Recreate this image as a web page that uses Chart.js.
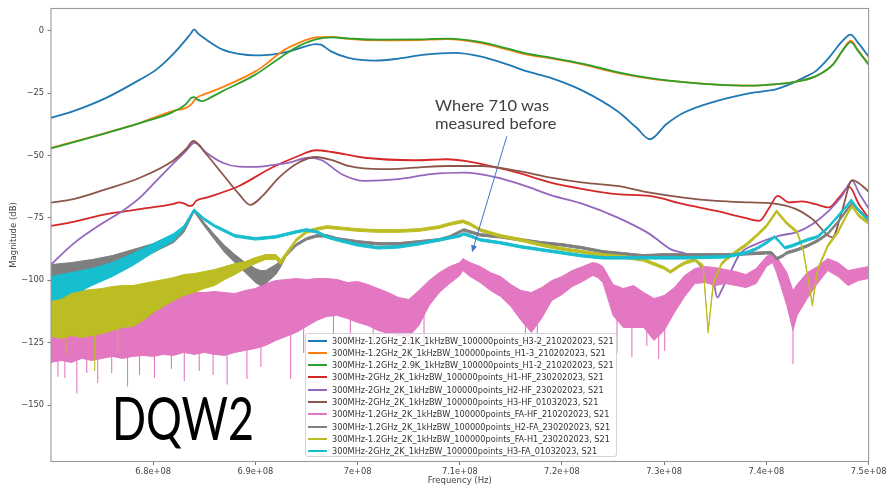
<!DOCTYPE html>
<html>
<head>
<meta charset="utf-8">
<title>DQW2 S21</title>
<script src="https://cdn.jsdelivr.net/npm/chart.js@4.4.1/dist/chart.umd.min.js"></script>
<style>
html, body { margin: 0; padding: 0; background: #fff; }
#wrap { position: relative; width: 888px; height: 487px; overflow: hidden; }
#c { position: absolute; left: 0; top: 0; }
.legend { position: absolute; left: 305px; top: 333px; width: 312px; height: 124px; box-sizing: border-box;
  border: 1px solid #d4d4d4; border-radius: 3px; background: rgba(255,255,255,0.8);
  font-family: 'DejaVu Sans'; font-size: 8.2px; color: #333; }
.legend .row { position: absolute; left: 0; height: 12px; width: 100%; }
.legend .row i { position: absolute; left: 2px; top: 5px; width: 19px; height: 2px; }
.legend .row span { position: absolute; left: 25.7px; top: 0; line-height: 12px; white-space: nowrap; display: inline-block; transform-origin: 0 50%; }
.note { position: absolute; left: 435px; top: 95.6px; font-family: Lato; font-size: 16px; line-height: 18.5px; color: #404040; white-space: nowrap; }
.note div { display: inline-block; transform-origin: 0 50%; }
.tag { position: absolute; left: 112px; top: 386.8px; font-family: Lato; font-size: 60px; line-height: 60px; color: #000; white-space: nowrap; display: inline-block; transform-origin: 0 0; }
</style>
</head>
<body>
<div id="wrap">
  <canvas id="c" width="888" height="487"></canvas>
  <div class="note" id="note"><div id="n1">Where 710 was</div><br><div id="n2">measured before</div></div>
  <div class="tag" id="tag">DQW2</div>
  <div class="legend" id="legend"></div>
</div>
<script>
// ---- axis ticks (frequency in MHz on the scale, labelled in Hz) ----
const FREQ_TICKS = [680, 690, 700, 710, 720, 730, 740, 750];
const FREQ_TICK_LABELS = ['6.8e+08', '6.9e+08', '7e+08', '7.1e+08', '7.2e+08', '7.3e+08', '7.4e+08', '7.5e+08'];
const DB_TICKS = [-150, -125, -100, -75, -50, -25, 0];
const DB_TICK_LABELS = ['\u2212150', '\u2212125', '\u2212100', '\u221275', '\u221250', '\u221225', '0'];

const SERIES_NAMES = [
  '300MHz-1.2GHz_2.1K_1kHzBW_100000points_H3-2_210202023, S21',
  '300MHz-1.2GHz_2K_1kHzBW_100000points_H1-3_210202023, S21',
  '300MHz-1.2GHz_2.9K_1kHzBW_100000points_H1-2_210202023, S21',
  '300MHz-2GHz_2K_1kHzBW_100000points_H1-HF_230202023, S21',
  '300MHz-2GHz_2K_1kHzBW_100000points_H2-HF_230202023, S21',
  '300MHz-2GHz_2K_1kHzBW_100000points_H3-HF_01032023, S21',
  '300MHz-1.2GHz_2K_1kHzBW_100000points_FA-HF_210202023, S21',
  '300MHz-1.2GHz_2K_1kHzBW_100000points_H2-FA_230202023, S21',
  '300MHz-1.2GHz_2K_1kHzBW_100000points_FA-H1_230202023, S21',
  '300MHz-2GHz_2K_1kHzBW_100000points_H3-FA_01032023, S21'
];
const SERIES_COLORS = ['#1f77b4', '#ff7f0e', '#2ca02c', '#d62728', '#9467bd', '#8c564b', '#e377c2', '#7f7f7f', '#bcbd22', '#17becf'];

// ---- smooth traces: frequency (MHz) and |S21| (dB) ----
const h32Freq = [670, 672.2, 675.4, 678.7, 680.3, 681.9, 683.2, 683.7, 684.0, 684.4, 685.2, 686.8, 688.4, 690.0, 691.6, 693.3, 694.9, 695.9, 696.4, 697.4, 699.1, 701.7, 704.0, 706.6, 709.5, 712.0, 714.7, 716.6, 718.9, 722.1, 725.4, 727.3, 728.6, 730.2, 731.9, 735.1, 738.4, 741.0, 742.2, 743.9, 744.8, 746.1, 747.4, 748.25, 749.0, 750];
const h32Db = [-34.9, -32.2, -26.9, -19.6, -15.6, -9.6, -3.6, -1.0, 0.5, -1.2, -3.6, -7.6, -9.3, -9.9, -9.6, -8.3, -6.3, -5.4, -5.6, -8.3, -10.9, -12.0, -11.2, -9.6, -8.9, -10.3, -13.6, -16.3, -18.9, -24.2, -32.2, -38.9, -43.5, -37.5, -32.9, -28.2, -25.0, -23.4, -21.6, -18.3, -16.3, -10.9, -4.3, -1.6, -5.0, -10.3];

const h13Freq = [670, 675.4, 678.7, 681.9, 683.2, 683.7, 684.2, 684.8, 686.8, 690.0, 691.0, 692.6, 694.2, 695.9, 697.5, 699.1, 702.3, 705.6, 708.8, 712.1, 714.7, 716.6, 718.9, 722.1, 725.4, 728.6, 731.9, 735.1, 738.4, 741.0, 742.2, 744.8, 746.5, 747.4, 748.25, 749.0, 750];
const h13Db = [-47.0, -40.9, -36.9, -32.2, -30.9, -29.6, -27.0, -25.8, -22.6, -16.3, -13.5, -8.3, -5.0, -2.7, -2.5, -3.3, -3.9, -3.8, -3.4, -5.0, -7.6, -9.6, -11.1, -13.6, -16.9, -19.2, -20.6, -21.6, -22.0, -21.4, -20.9, -18.3, -13.6, -8.3, -4.0, -8.0, -13.3];

const h12Freq = [670, 675.4, 678.7, 681.9, 683.2, 683.7, 684.0, 684.3, 684.8, 685.5, 686.8, 690.0, 692.6, 694.2, 695.9, 697.5, 699.1, 702.3, 705.6, 708.8, 712.1, 714.7, 716.6, 718.9, 722.1, 725.4, 728.6, 731.9, 735.1, 738.4, 741.0, 742.2, 744.8, 746.5, 747.4, 748.25, 749.0, 750];
const h12Db = [-47.2, -41.0, -37.0, -32.6, -29.4, -27.0, -26.6, -27.5, -28.2, -27.0, -24.2, -17.6, -10.3, -6.3, -3.5, -2.7, -3.1, -3.6, -3.5, -3.2, -4.6, -7.2, -9.2, -10.8, -13.3, -16.6, -19.0, -20.6, -21.6, -22.0, -21.4, -20.9, -18.3, -13.6, -8.3, -4.6, -8.3, -13.6];

const h1hfFreq = [670, 672.2, 675.4, 678.7, 681.9, 682.55, 683.1, 683.5, 683.9, 684.2, 685.2, 688.4, 691.6, 694.2, 695.9, 697.5, 700.7, 705.6, 708.8, 710.5, 713.7, 715.65, 718.9, 722.1, 725.4, 728.6, 731.9, 735.1, 737.7, 739.3, 740.3, 741.1, 742.2, 743.5, 744.8, 746.1, 747.1, 748.1, 749.05, 750];
const h1hfDb = [-78.2, -76.6, -73.5, -71.5, -69.5, -68.8, -69.4, -70.2, -69.8, -68.2, -66.9, -62.2, -54.9, -50.2, -47.9, -48.6, -50.9, -51.9, -51.5, -52.2, -54.9, -56.9, -60.9, -63.5, -65.5, -66.2, -69.5, -72.2, -74.8, -76.2, -70.8, -66.2, -68.8, -68.4, -69.5, -70.8, -66.9, -62.6, -69.5, -75.0];

const h2hfFreq = [670, 672.2, 675.4, 677.0, 678.7, 680.3, 681.9, 683.2, 684.04, 685.2, 686.8, 688.4, 690.0, 691.6, 693.3, 695.2, 696.5, 698.45, 700.7, 704.0, 707.2, 710.5, 713.7, 716.6, 718.9, 722.1, 725.4, 728.6, 730.6, 732.5, 733.8, 734.8, 735.2, 735.6, 736.4, 737.4, 739.0, 741.3, 742.9, 744.5, 746.1, 747.4, 748.4, 749.05, 750];
const h2hfDb = [-93.7, -85.3, -76.2, -72.2, -66.9, -60.2, -53.5, -48.2, -44.9, -48.9, -52.9, -54.5, -54.6, -53.9, -52.9, -50.9, -51.9, -57.5, -60.2, -59.5, -57.5, -56.9, -58.9, -62.5, -65.9, -69.5, -74.8, -81.5, -87.5, -90.1, -95.3, -100.1, -106.9, -104.1, -97.4, -89.5, -85.5, -82.1, -80.8, -77.5, -72.2, -66.2, -60.2, -64.9, -71.2];

const h3hfFreq = [670, 672.2, 675.4, 678.7, 681.9, 683.2, 683.94, 685.2, 686.8, 688.4, 689.5, 690.7, 692.3, 694.2, 695.9, 697.5, 699.1, 702.3, 705.6, 708.8, 712.1, 715.65, 718.9, 722.1, 725.4, 728.6, 731.9, 735.1, 738.4, 740.6, 742.9, 744.5, 746.46, 747.4, 748.4, 749.4, 750];
const h3hfDb = [-68.9, -67.5, -63.5, -58.9, -52.2, -47.5, -44.2, -49.5, -57.5, -65.5, -69.8, -66.2, -58.9, -52.9, -50.6, -51.9, -54.2, -55.5, -54.9, -54.2, -54.2, -56.2, -58.9, -60.9, -62.2, -64.9, -66.9, -68.2, -68.8, -69.2, -71.5, -75.5, -82.8, -72.2, -59.9, -62.2, -64.5];

// ---- noisy traces: upper and lower edge of the noise band (dB) ----
const faHfFreq = [670, 671, 672, 673, 674, 675, 676, 677, 678, 679, 680, 681, 682, 683, 684, 685, 686, 687, 688, 689, 690, 691, 692, 693, 694, 695, 696, 697, 698, 699, 700, 701, 702, 703, 704, 705, 706, 707, 708, 709, 710, 710.3, 711, 712, 713, 714, 715, 716, 717, 718, 719, 720, 721, 722, 723, 723.5, 724, 725, 726, 727, 728, 729, 730, 731, 732, 733, 734, 735, 736, 737, 738, 739, 740, 740.6, 741, 742, 742.6, 743, 744, 745, 746, 747, 748, 749, 750];
const faHfHigh = [-116.1, -116.9, -116.1, -116.9, -115.3, -115.3, -114.5, -113.7, -112.9, -108.1,
  -105.7, -105.3, -104.9, -104.5, -104.9, -104.9, -104.5, -104.9, -105.3, -104.1,
  -103.3, -101.3, -100.1, -99.7, -99.3, -99.7, -99.3, -99.3, -99.7, -100.9,
  -100.5, -101.7, -103.3, -104.9, -106.9, -107.7, -104.1, -100.1, -96.9, -94.5,
  -92.9, -91.3,
  -92.9, -94.5, -96.9, -98.5, -101.7, -104.1, -104.9, -102.9, -100.1, -98.5, -96.1, -94.5, -92.9,
  -93.3,
  -94.5, -101.7, -103.3, -102.1, -104.9, -107.3, -106.1, -102.9, -98.1, -95.3, -94.5, -94.9, -95.7, -96.5, -97.7, -95.3, -90.5,
  -88.9,
  -90.5, -96.9,
  -104.1,
  -101.7, -96.9, -94.5, -91.3, -92.9, -96.1, -95.3, -94.5];
const faHfLow = [-132.9, -132.1, -132.9, -131.3, -132.1, -131.3, -130.5, -131.3, -130.5, -130.1,
  -130.5, -129.7, -130.1, -128.9, -129.7, -128.9, -129.7, -130.1, -128.9, -128.1,
  -127.3, -126.1, -124.1, -122.5, -120.9, -118.5, -116.1, -114.5, -114.1, -115.3,
  -116.9, -118.1, -120.1, -121.3, -122.1, -122.5, -118.1, -110.1, -104.9, -101.3,
  -98.1, -96.1,
  -98.5, -100.9, -104.1, -106.5, -110.5, -116.1, -120.9, -115.3, -108.1, -105.7, -102.5, -100.5, -98.1,
  -98.9,
  -100.9, -114.1, -118.9, -118.9, -118.9, -124.1, -120.1, -112.9, -106.5, -101.3, -100.9, -102.1, -101.3, -102.1, -102.9, -101.3, -94.5,
  -92.9,
  -96.9, -110.1,
  -120.1,
  -114.1, -107.3, -101.3, -96.1, -98.5, -102.1, -100.1, -99.3];
const faHfSpikeFreq = [670.68, 671.36, 672.53, 673.50, 674.57, 675.94, 677.49, 678.66, 680.12, 681.78, 683.04, 684.50, 685.86, 687.23, 689.17, 690.54, 693.45, 694.72, 697.64, 699.29, 701.53, 703.77, 705.13, 706.50, 716.42, 717.59, 725.38, 726.84, 728.30, 729.46, 730.05, 742.60];
const faHfSpikeTop = [-130.5, -132.1, -131.3, -131.3, -131.3, -130.5, -130.5, -130.1, -129.7, -129.7, -128.9, -128.9, -129.7, -130.1, -128.1, -126.5, -121.7, -119.3, -114.5, -115.3, -118.9, -121.5, -122.0, -114.0, -118.0, -118.0, -112.1, -118.5, -118.9, -122.0, -119.5, -120.1];
const faHfSpikeBottom = [-138.4, -138.9, -145.2, -136.9, -140.9, -136.9, -142.4, -137.7, -138.9, -135.3, -140.1, -136.1, -137.7, -141.6, -139.3, -134.5, -139.3, -128.9, -124.9, -123.3, -126.1, -128.1, -128.9, -126.1, -126.5, -126.5, -128.9, -130.5, -126.1, -131.3, -128.1, -133.3];

const h2faFreq = [670, 672, 674, 676, 678, 680, 682, 683, 684, 685, 686, 687, 688, 689, 690, 690.5, 691, 692, 692.5, 693, 694, 695, 696, 697, 698, 700, 702, 704, 706, 708, 709, 710.4, 711, 712, 714, 716, 718, 720, 722, 724, 726, 728, 730, 732, 734, 736, 738, 740, 740.5, 741, 741.6, 742, 743, 744, 745, 746, 747, 748, 748.4, 749, 750];
const h2faHigh = [-93.7, -92.9, -91.7, -90.1, -87.7, -85.3, -81.7,
  -78.5, -71.4, -76.9, -81.7, -86.1, -89.7, -92.9, -95.3,
  -96.1,
  -96.1, -93.7,
  -92.1,
  -89.3, -85.3, -82.9, -81.7, -81.7, -82.9,
  -84.1, -84.9, -84.9, -84.1, -83.3,
  -82.1, -79.3,
  -80.1, -81.3,
  -82.1, -83.3, -84.5, -85.3, -86.5, -88.1, -88.9, -89.7, -89.3, -89.3, -89.3, -89.3, -88.9, -88.5,
  -88.5, -90.9, -89.7,
  -88.5, -87.3, -85.7, -83.7, -80.9, -76.2, -70.6,
  -68.6,
  -71.4, -75.0];
const h2faLow = [-101.3, -99.3, -97.3, -94.9, -92.1, -88.9, -84.9,
  -80.9, -72.6, -78.3, -83.7, -88.9, -92.9, -96.9, -100.9,
  -102.1,
  -101.3, -97.7,
  -94.5,
  -90.5, -86.3, -83.9, -82.7, -82.7, -83.9,
  -85.1, -85.9, -85.9, -85.1, -84.3,
  -83.1, -80.3,
  -81.1, -82.3,
  -83.1, -84.3, -85.5, -86.3, -87.5, -89.1, -89.9, -90.7, -90.3, -90.3, -90.3, -90.3, -89.9, -89.5,
  -89.5, -91.9, -90.7,
  -89.5, -88.3, -86.7, -84.7, -81.9, -77.2, -71.6,
  -69.6,
  -72.4, -76.0];

const faH1Freq = [670, 671, 672, 673, 674, 675, 676, 677, 678, 679, 680, 681, 682, 683, 684, 685, 686, 687, 688, 689, 690, 691, 692, 692.5, 693, 694, 695, 696, 697, 698, 700, 702, 704, 706, 708, 709, 710.3, 711, 712, 714, 716, 718, 720, 722, 724, 726, 728, 729, 730, 730.6, 731.5, 732, 733, 733.8, 734.3, 734.8, 735.6, 736, 737, 738, 739, 740, 741, 742, 743, 743.6, 744.2, 744.5, 745, 746, 747, 748, 748.4, 749, 750];
const faH1High = [-104.9, -104.5, -104.1, -104.1, -103.7, -103.3, -102.5, -102.1, -102.1, -101.3,
  -100.5, -99.7, -98.9, -97.7, -97.3, -96.5, -95.7, -94.5, -93.3, -92.5,
  -90.9, -89.7, -89.7,
  -91.7,
  -88.9, -83.3, -80.1, -78.9, -78.1, -78.5,
  -79.3, -79.7, -79.7, -79.3, -78.1,
  -76.9, -75.8,
  -76.9, -79.3,
  -81.7, -83.3, -85.3, -86.9, -88.1, -89.3, -90.1, -91.3,
  -92.9, -94.5,
  -96.1, -93.7,
  -92.5, -91.3,
  -93.7, -120.1, -100.9, -92.9,
  -91.3, -88.1, -85.3, -81.7, -77.7, -71.8, -76.6, -80.1,
  -87.3, -101.7, -109.3,
  -95.3, -85.7, -80.1, -72.2,
  -69.8,
  -73.4, -76.6];
const faH1Low = [-122.5, -123.3, -122.1, -122.9, -122.1, -121.3, -120.1, -118.9, -118.5, -116.1,
  -112.9, -110.5, -108.1, -106.1, -104.9, -103.3, -102.1, -99.7, -97.7, -95.3,
  -93.3, -91.7, -91.7,
  -93.7,
  -90.5, -84.4, -81.2, -80.0, -79.2, -79.6,
  -80.4, -80.8, -80.8, -80.4, -79.2,
  -78.0, -76.9,
  -78.0, -80.4,
  -82.8, -84.4, -86.4, -88.0, -89.2, -90.4, -91.2, -92.4,
  -94.0, -95.6,
  -97.2, -94.8,
  -93.6, -92.4,
  -94.8, -121.2, -102.0, -94.0,
  -92.4, -89.2, -86.4, -82.8, -78.8, -72.9, -77.7, -81.2,
  -88.4, -102.8, -110.4,
  -96.4, -86.8, -81.2, -73.3,
  -70.9,
  -74.5, -77.7];
const faH1SpikeFreq = [671.46, 674.28, 676.52];
const faH1SpikeTop = [-122.5, -121.5, -119.5];
const faH1SpikeBottom = [-129.7, -136.1, -128.1];

const h3faFreq = [670, 671, 672, 673, 674, 676, 678, 680, 682, 683, 684, 685, 686, 688, 690, 692, 694, 695, 696, 697, 698, 700, 702, 704, 706, 708, 710, 710.4, 711, 712, 714, 716, 718, 720, 722, 724, 728, 732, 736, 738, 739, 740, 740.8, 741.3, 741.8, 742.5, 743, 744, 745, 746, 747, 748, 748.3, 749, 750];
const h3faHigh = [-98.5, -97.7, -96.9, -96.1, -95.3, -92.9, -89.3, -85.3, -81.3,
  -78.1, -71.4, -75.0, -77.7, -81.7, -82.9, -82.1, -80.1, -79.3, -80.1, -82.1, -83.3, -85.3, -86.5, -86.1, -84.9, -83.3, -81.7, -80.9, -81.7, -83.3, -84.5, -86.1, -87.3, -88.5, -89.7, -90.5, -90.5, -90.5, -90.1, -88.5, -86.9, -84.5, -82.1, -84.1, -86.5, -85.7, -84.9, -83.3, -82.1, -78.5, -73.8, -69.0, -67.4, -71.4, -75.4];
const h3faLow = [-108.1, -107.3, -104.9, -104.1, -102.1, -98.5, -94.1, -88.9, -84.1,
  -79.5, -72.4, -76.0, -78.7, -82.7, -83.9, -83.1, -81.1, -80.3, -81.1, -83.1, -84.3, -86.3, -87.5, -87.1, -85.9, -84.3, -82.7, -81.9, -82.7, -84.3, -85.5, -87.1, -88.3, -89.5, -90.7, -91.5, -91.5, -91.5, -91.1, -89.5, -87.9, -85.5, -83.1, -85.1, -87.5, -86.7, -85.9, -84.3, -83.1, -79.5, -74.8, -70.0, -68.4, -72.4, -76.4];

// arrow of the text note, in axis units (MHz, dB)
const NOTE_ARROW = { from: [714.6, -42.3], to: [711.2, -88.8], color: '#4472c4' };

// ---- dataset builders ----
const toPoints = (f, v) => f.map((x, i) => ({ x, y: v[i] }));
const toSpikes = (f, a, b) => f.flatMap((x, i) => [{ x, y: a[i] }, { x, y: b[i] }, { x, y: null }]);

function trace(k, f, v) {
  return [{
    label: SERIES_NAMES[k], data: toPoints(f, v), borderColor: SERIES_COLORS[k],
    borderWidth: 1.8, cubicInterpolationMode: 'monotone', fill: false, order: 20 - k
  }];
}
function band(k, f, hi, lo) {
  const c = SERIES_COLORS[k];
  return [
    { label: SERIES_NAMES[k], data: toPoints(f, hi), borderColor: c, borderWidth: 1, tension: 0, fill: false, order: 20 - k },
    { label: SERIES_NAMES[k] + ' (lower edge)', data: toPoints(f, lo), borderColor: c, backgroundColor: c, borderWidth: 1, tension: 0, fill: '-1', order: 20 - k }
  ];
}
function spikes(k, f, a, b) {
  return [{
    label: SERIES_NAMES[k] + ' (spikes)', data: toSpikes(f, a, b), borderColor: SERIES_COLORS[k],
    borderWidth: 1.1, tension: 0, fill: false, spanGaps: false, order: 20 - k
  }];
}

const datasets = [
  ...trace(0, h32Freq, h32Db),
  ...trace(1, h13Freq, h13Db),
  ...trace(2, h12Freq, h12Db),
  ...trace(3, h1hfFreq, h1hfDb),
  ...trace(4, h2hfFreq, h2hfDb),
  ...trace(5, h3hfFreq, h3hfDb),
  ...band(6, faHfFreq, faHfHigh, faHfLow),
  ...spikes(6, faHfSpikeFreq, faHfSpikeTop, faHfSpikeBottom),
  ...band(7, h2faFreq, h2faHigh, h2faLow),
  ...band(8, faH1Freq, faH1High, faH1Low),
  ...spikes(8, faH1SpikeFreq, faH1SpikeTop, faH1SpikeBottom),
  ...band(9, h3faFreq, h3faHigh, h3faLow)
];

// axes frame and note arrow
const overlay = {
  id: 'overlay',
  afterDatasetsDraw(chart) {
    const { ctx, chartArea: a, scales: { x, y } } = chart;
    ctx.save();
    ctx.strokeStyle = '#9a9a9a';
    ctx.lineWidth = 1.1;
    ctx.strokeRect(a.left, a.top, a.right - a.left, a.bottom - a.top);

    const x1 = x.getPixelForValue(NOTE_ARROW.from[0]), y1 = y.getPixelForValue(NOTE_ARROW.from[1]);
    const x2 = x.getPixelForValue(NOTE_ARROW.to[0]), y2 = y.getPixelForValue(NOTE_ARROW.to[1]);
    const ang = Math.atan2(y2 - y1, x2 - x1), L = 7, W = 3;
    const cx = Math.cos(ang), sx = Math.sin(ang);
    ctx.strokeStyle = NOTE_ARROW.color;
    ctx.fillStyle = NOTE_ARROW.color;
    ctx.lineWidth = 1;
    ctx.beginPath(); ctx.moveTo(x1, y1); ctx.lineTo(x2 - L * 0.8 * cx, y2 - L * 0.8 * sx); ctx.stroke();
    ctx.beginPath();
    ctx.moveTo(x2, y2);
    ctx.lineTo(x2 - L * cx + W * sx, y2 - L * sx - W * cx);
    ctx.lineTo(x2 - L * cx - W * sx, y2 - L * sx + W * cx);
    ctx.closePath(); ctx.fill();
    ctx.restore();
  }
};

Chart.defaults.font.family = "'DejaVu Sans', sans-serif";

new Chart(document.getElementById('c'), {
  type: 'line',
  data: { datasets },
  options: {
    responsive: false,
    animation: false,
    events: [],
    layout: { padding: { top: 7, right: 15, left: 0, bottom: 0 } },
    elements: { point: { radius: 0 }, line: { borderJoinStyle: 'round' } },
    plugins: { legend: { display: false }, tooltip: { enabled: false } },
    scales: {
      x: {
        type: 'linear', min: 670, max: 750,
        afterFit(s) { s.height = 25.5; },
        afterBuildTicks(s) { s.ticks = FREQ_TICKS.map(v => ({ value: v })); },
        ticks: { callback: (v, i) => FREQ_TICK_LABELS[i], autoSkip: false, maxRotation: 0, padding: 1.5, color: '#444', font: { size: 8.3 } },
        grid: { drawOnChartArea: false, tickLength: 3.5, color: '#555', lineWidth: 0.8 },
        border: { display: false },
        title: { display: true, text: 'Frequency (Hz)', color: '#444', font: { size: 8.5 }, padding: { top: 0, bottom: 1 } }
      },
      y: {
        type: 'linear', min: -172.6, max: 8.9,
        afterFit(s) { s.width = 51; },
        afterBuildTicks(s) { s.ticks = DB_TICKS.map(v => ({ value: v })); },
        ticks: { callback: (v, i) => DB_TICK_LABELS[i], autoSkip: false, padding: 3.5, color: '#444', font: { size: 8.3 } },
        grid: { drawOnChartArea: false, tickLength: 3.5, color: '#555', lineWidth: 0.8 },
        border: { display: false },
        title: { display: true, text: 'Magnitude (dB)', color: '#444', font: { size: 8.5 }, padding: { top: 9, bottom: 0 } }
      }
    }
  },
  plugins: [overlay]
});

// legend box
const legend = document.getElementById('legend');
SERIES_NAMES.forEach((name, k) => {
  const row = document.createElement('div');
  row.className = 'row';
  row.style.top = (0.7 + 12.26 * k) + 'px';
  const h = document.createElement('i');
  h.style.background = SERIES_COLORS[k];
  const t = document.createElement('span');
  t.textContent = name;
  row.appendChild(h); row.appendChild(t);
  legend.appendChild(row);
});

function fitText() {
  const spans = legend.querySelectorAll('span');
  const s = 281.6 / spans[0].getBoundingClientRect().width;
  spans.forEach(sp => { sp.style.transform = 'scaleX(' + s + ')'; });
  const n2 = document.getElementById('n2'), n1 = document.getElementById('n1');
  const ns = 121.5 / n2.getBoundingClientRect().width;
  n1.style.transform = n2.style.transform = 'scaleX(' + ns + ')';
  const tag = document.getElementById('tag');
  tag.style.transform = 'scaleX(' + (142 / tag.getBoundingClientRect().width) + ')';
}
fitText();
</script>
